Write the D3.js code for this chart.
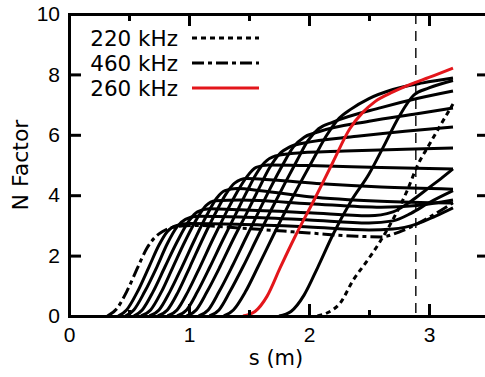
<!DOCTYPE html>
<html>
<head>
<meta charset="utf-8">
<script src="https://cdn.jsdelivr.net/npm/d3@7.9.0/dist/d3.min.js"></script>
<style>
  body { margin: 0; background: #fff; }
  svg { display: block; font-family: "DejaVu Sans", sans-serif; }
  .axis path, .axis line { stroke: #000; stroke-width: 3; }
  .axis text { font-size: 21px; fill: #000; }
</style>
</head>
<body>
<svg id="chart" width="485" height="377"></svg>
<script>
// N factor curves, [s (m), N]
const curve460 = [[0.32,0],[0.40,0.25],[0.48,0.8],[0.575,1.63],[0.65,2.25],[0.72,2.62],[0.78,2.8],[0.88,2.95],[1.05,3.0],[1.43,2.91],[2.0,2.75],[2.4,2.64],[2.6,2.62],[2.75,2.78],[2.9,3.05],[3.05,3.38],[3.2,3.75]];
const curve260 = [[1.45,0],[1.55,0.15],[1.65,0.65],[1.76,1.6],[1.88,2.6],[2.05,3.9],[2.2,5.1],[2.34,6.2],[2.45,6.75],[2.55,7.1],[2.7,7.42],[2.85,7.68],[3.0,7.9],[3.2,8.21]];
const curve220 = [[2.07,0],[2.15,0.1],[2.26,0.43],[2.37,1.2],[2.48,1.8],[2.59,2.45],[2.7,3.2],[2.82,4.17],[2.9,4.95],[3.0,5.66],[3.1,6.35],[3.2,7.02]];

const blackCurves = [
  [[0.41,0],[0.48,0.2],[0.57,0.8],[0.667,1.63],[0.75,2.35],[0.82,2.8],[0.9,3.0],[1.0,3.06],[1.4,3.04],[2.0,2.95],[2.5,2.85],[2.7,2.88],[2.9,3.05],[3.05,3.3],[3.2,3.58]],
  [[0.47,0],[0.54,0.2],[0.63,0.8],[0.733,1.63],[0.82,2.4],[0.9,2.95],[0.97,3.2],[1.07,3.3],[1.43,3.28],[2.0,3.18],[2.5,3.08],[2.7,3.15],[2.85,3.4],[3.0,3.75],[3.2,4.15]],
  [[0.54,0],[0.61,0.2],[0.70,0.8],[0.80,1.63],[0.9,2.45],[1.0,3.15],[1.07,3.45],[1.17,3.55],[1.43,3.52],[2.0,3.42],[2.5,3.32],[2.7,3.45],[2.85,3.8],[3.0,4.25],[3.1,4.55],[3.2,4.87]],
  [[0.60,0],[0.68,0.2],[0.77,0.8],[0.867,1.63],[0.97,2.5],[1.07,3.25],[1.14,3.65],[1.22,3.82],[1.43,3.84],[2.0,3.72],[2.6,3.6],[2.9,3.66],[3.2,3.84]],
  [[0.67,0],[0.75,0.2],[0.84,0.8],[0.942,1.63],[1.05,2.55],[1.15,3.35],[1.23,3.9],[1.3,4.15],[1.4,4.22],[1.6,4.15],[2.0,3.95],[2.6,3.8],[3.2,3.74]],
  [[0.74,0],[0.82,0.2],[0.91,0.8],[1.008,1.63],[1.12,2.6],[1.22,3.4],[1.31,4.05],[1.38,4.4],[1.48,4.55],[1.7,4.5],[2.1,4.38],[2.6,4.27],[3.2,4.2]],
  [[0.82,0],[0.90,0.2],[0.99,0.8],[1.092,1.63],[1.2,2.55],[1.3,3.35],[1.4,4.1],[1.48,4.6],[1.56,4.92],[1.66,5.0],[2.0,4.98],[2.6,4.92],[3.2,4.87]],
  [[0.90,0],[0.98,0.2],[1.07,0.8],[1.175,1.63],[1.28,2.5],[1.38,3.3],[1.48,4.1],[1.56,4.7],[1.63,5.08],[1.72,5.3],[1.85,5.38],[2.3,5.46],[2.8,5.52],[3.2,5.56]],
  [[0.98,0],[1.06,0.2],[1.15,0.8],[1.258,1.63],[1.37,2.55],[1.48,3.4],[1.58,4.2],[1.67,4.9],[1.75,5.35],[1.84,5.6],[1.95,5.72],[2.4,5.95],[2.8,6.12],[3.2,6.26]],
  [[1.08,0],[1.16,0.2],[1.25,0.8],[1.358,1.63],[1.47,2.55],[1.58,3.45],[1.68,4.25],[1.78,5.0],[1.87,5.6],[1.96,5.92],[2.08,6.1],[2.5,6.45],[2.9,6.7],[3.2,6.89]],
  [[1.17,0],[1.25,0.2],[1.34,0.8],[1.45,1.63],[1.57,2.6],[1.69,3.55],[1.8,4.4],[1.9,5.15],[1.99,5.8],[2.08,6.2],[2.2,6.42],[2.6,6.9],[2.9,7.2],[3.2,7.45]],
  [[1.29,0],[1.37,0.2],[1.47,0.8],[1.575,1.63],[1.7,2.65],[1.82,3.6],[1.94,4.5],[2.05,5.3],[2.15,6.0],[2.24,6.5],[2.35,6.85],[2.5,7.2],[2.7,7.5],[2.95,7.72],[3.2,7.88]],
  [[1.75,0],[1.85,0.15],[1.96,0.7],[2.075,1.63],[2.2,2.7],[2.35,3.8],[2.5,4.7],[2.62,5.6],[2.75,6.6],[2.87,7.3],[3.0,7.55],[3.2,7.8]]
];

const legendLabels = ['220 kHz', '460 kHz', '260 kHz'];
const xTicks = [0, 1, 2, 3];
const xMinorTicks = [0.5, 1.5, 2.5, 3.5];
const yTicks = [0, 2, 4, 6, 8, 10];
const markerS = 2.89;

const svg = d3.select('#chart');
const plotLeft = 69, plotRight = 489, plotTop = 14, plotBottom = 316;

const x = d3.scaleLinear().domain([0, 3.5]).range([plotLeft, plotRight]);
const y = d3.scaleLinear().domain([0, 10]).range([plotBottom, plotTop]);

const line = d3.line()
  .x(d => x(d[0]))
  .y(d => y(d[1]))
  .curve(d3.curveMonotoneX);

svg.append('clipPath').attr('id', 'clip')
  .append('rect').attr('x', plotLeft).attr('y', plotTop)
  .attr('width', plotRight - plotLeft).attr('height', plotBottom - plotTop);

const plot = svg.append('g').attr('clip-path', 'url(#clip)');

// vertical marker
plot.append('line')
  .attr('x1', x(markerS)).attr('x2', x(markerS))
  .attr('y1', y(10)).attr('y2', y(0))
  .attr('stroke', '#222').attr('stroke-width', 1.6)
  .attr('stroke-dasharray', '10,7');

// black curves
plot.selectAll('path.black')
  .data(blackCurves)
  .enter()
  .append('path')
  .attr('class', 'black')
  .attr('d', line)
  .attr('fill', 'none')
  .attr('stroke', '#000')
  .attr('stroke-width', 3);

const styles = [
  { data: curve220, color: '#000', dash: '5,4' },
  { data: curve460, color: '#000', dash: '12,4,4,4' },
  { data: curve260, color: '#e3161b', dash: null }
];

styles.forEach(st => {
  plot.append('path')
    .attr('d', line(st.data))
    .attr('fill', 'none')
    .attr('stroke', st.color)
    .attr('stroke-width', 3)
    .attr('stroke-dasharray', st.dash);
});

// axes (ticks inward)
svg.append('g').attr('class', 'axis')
  .attr('transform', `translate(0,${plotBottom})`)
  .call(d3.axisBottom(x).tickValues(xTicks).tickSize(-12).tickSizeOuter(0).tickPadding(11).tickFormat(d3.format('d')));
svg.append('g').attr('class', 'axis')
  .attr('transform', `translate(0,${plotBottom})`)
  .call(d3.axisBottom(x).tickValues(xMinorTicks).tickSize(-6).tickSizeOuter(0).tickFormat(''));
svg.append('g').attr('class', 'axis')
  .attr('transform', `translate(0,${plotTop})`)
  .call(d3.axisTop(x).tickValues(xTicks).tickSize(-12).tickSizeOuter(0).tickFormat(''));
svg.append('g').attr('class', 'axis')
  .attr('transform', `translate(0,${plotTop})`)
  .call(d3.axisTop(x).tickValues(xMinorTicks).tickSize(-7).tickSizeOuter(0).tickFormat(''));
svg.append('g').attr('class', 'axis')
  .attr('transform', `translate(${plotLeft},0)`)
  .call(d3.axisLeft(y).tickValues(yTicks).tickSize(-12).tickSizeOuter(0).tickPadding(9));
svg.append('g').attr('class', 'axis')
  .attr('transform', `translate(${plotRight},0)`)
  .call(d3.axisRight(y).tickValues(yTicks).tickSize(-12).tickSizeOuter(0).tickFormat(''));

svg.selectAll('.axis path.domain').attr('stroke-linecap', 'square');

// axis labels
svg.append('text')
  .attr('x', 276).attr('y', 365)
  .attr('text-anchor', 'middle')
  .attr('font-size', 21)
  .text('s (m)');
svg.append('text')
  .attr('transform', 'translate(28,165) rotate(-90)')
  .attr('text-anchor', 'middle')
  .attr('font-size', 22)
  .text('N Factor');

// legend
const legend = svg.append('g');
styles.forEach((st, i) => {
  const ly = 38 + i * 25;
  legend.append('text')
    .attr('x', 178).attr('y', ly + 7.5)
    .attr('text-anchor', 'end')
    .attr('font-size', 21.5)
    .text(legendLabels[i]);
  legend.append('line')
    .attr('x1', 192).attr('x2', 259)
    .attr('y1', ly).attr('y2', ly)
    .attr('stroke', st.color)
    .attr('stroke-width', 3)
    .attr('stroke-dasharray', st.dash);
});
</script>
</body>
</html>
